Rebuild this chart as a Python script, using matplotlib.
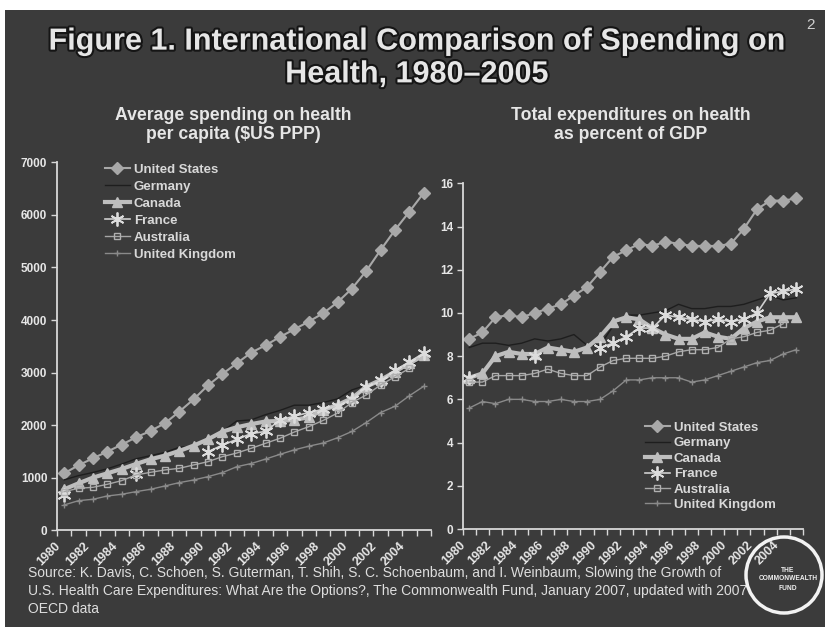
import numpy as np
import matplotlib.pyplot as plt
import matplotlib.patheffects as pe
import matplotlib.transforms as mtransforms
from matplotlib.patches import Rectangle, Circle

nan = np.nan
years = list(range(1980, 2006))
year_labels = [str(y) for y in range(1980, 2006, 2)]

# spending per capita, $US PPP
us_pc = [1084, 1237, 1370, 1497, 1630, 1769, 1890, 2036, 2257, 2492, 2758, 2974, 3177,
         3380, 3519, 3678, 3824, 3970, 4128, 4337, 4597, 4933, 5333, 5713, 6062, 6420]
de_pc = [960, 1040, 1100, 1170, 1260, 1360, 1420, 1480, 1580, 1600, 1740, 1880, 2080,
         2100, 2200, 2280, 2380, 2380, 2430, 2500, 2670, 2760, 2860, 2990, 3120, 3290]
ca_pc = [780, 894, 1002, 1084, 1167, 1262, 1351, 1420, 1509, 1611, 1731, 1877, 1960,
         2020, 2070, 2080, 2100, 2150, 2290, 2384, 2511, 2733, 2860, 3018, 3177, 3326]
fr_pc = [680, nan, nan, nan, nan, 1080, nan, nan, nan, nan, 1495, 1620, 1730,
         1840, 1880, 2100, 2170, 2240, 2300, 2370, 2500, 2720, 2850, 3040, 3200, 3374]
au_pc = [736, 799, 818, 875, 945, 1053, 1103, 1148, 1179, 1243, 1306, 1401, 1470,
         1560, 1655, 1750, 1870, 1971, 2090, 2230, 2430, 2574, 2765, 2922, 3080, nan]
uk_pc = [482, 564, 590, 653, 685, 736, 780, 843, 907, 957, 1021, 1097, 1210,
         1270, 1355, 1445, 1530, 1600, 1660, 1760, 1880, 2050, 2240, 2360, 2560, 2740]

# total expenditure on health, % of GDP
us_gdp = [8.8, 9.1, 9.8, 9.9, 9.8, 10.0, 10.2, 10.4, 10.8, 11.2, 11.9, 12.6, 12.9,
          13.2, 13.1, 13.3, 13.2, 13.1, 13.1, 13.1, 13.2, 13.9, 14.8, 15.2, 15.2, 15.3]
de_gdp = [8.4, 8.6, 8.6, 8.5, 8.6, 8.8, 8.7, 8.8, 9.0, 8.5, 8.5, 9.4, 9.9,
          9.9, 10.0, 10.1, 10.4, 10.2, 10.2, 10.3, 10.3, 10.4, 10.6, 10.8, 10.6, 10.7]
ca_gdp = [7.0, 7.2, 8.0, 8.2, 8.1, 8.1, 8.4, 8.3, 8.2, 8.4, 8.9, 9.6, 9.8,
          9.7, 9.3, 9.0, 8.8, 8.8, 9.1, 8.9, 8.8, 9.3, 9.6, 9.8, 9.8, 9.8]
fr_gdp = [7.0, nan, nan, nan, nan, 8.0, nan, nan, nan, nan, 8.4, 8.6, 8.9,
          9.3, 9.3, 9.9, 9.8, 9.7, 9.6, 9.7, 9.6, 9.7, 10.0, 10.9, 11.0, 11.1]
au_gdp = [6.8, 6.8, 7.1, 7.1, 7.1, 7.2, 7.4, 7.2, 7.1, 7.1, 7.5, 7.8, 7.9,
          7.9, 7.9, 8.0, 8.2, 8.3, 8.3, 8.4, 8.8, 8.9, 9.1, 9.2, 9.5, nan]
uk_gdp = [5.6, 5.9, 5.8, 6.0, 6.0, 5.9, 5.9, 6.0, 5.9, 5.9, 6.0, 6.4, 6.9,
          6.9, 7.0, 7.0, 7.0, 6.8, 6.9, 7.1, 7.3, 7.5, 7.7, 7.8, 8.1, 8.3]

countries = ['United States', 'Germany', 'Canada', 'France', 'Australia', 'United Kingdom']
styles = [
    dict(color='#a8a8a8', lw=1.5, marker='D', ms=6.3, mec='#a8a8a8'),
    dict(color='#1e1e1e', lw=1.0),
    dict(color='#bebebe', lw=3.0, marker='^', ms=6.5, mec='#bebebe'),
    dict(color='#cfcfcf', lw=1.2, marker=(6, 2, 0), ms=10, mew=1.3, mec='#dcdcdc'),
    dict(color='#a6a6a6', lw=1.0, marker='s', ms=4.5, mfc='none', mec='#b0b0b0', mew=1.0),
    dict(color='#8a8a8a', lw=1.0, marker='+', ms=5, mec='#8a8a8a'),
]

bg = '#3b3b3b'
fg = '#e6e6e6'
plt.rcParams['font.family'] = ['Liberation Sans', 'DejaVu Sans']

fig = plt.figure(figsize=(8.25, 6.27), dpi=100, facecolor='white')
fig.patches.append(Rectangle((5 / 825, 0), 1, 1 - 10 / 627, transform=fig.transFigure,
                             facecolor=bg, edgecolor='none', zorder=-10))

shadow = [pe.withStroke(linewidth=3, foreground='#151515')]
fig.text(0.505, 1 - 58 / 627, 'Figure 1. International Comparison of Spending on\nHealth, 1980\u20132005',
         ha='center', va='center', fontsize=22, fontweight='bold', color=fg,
         linespacing=1.12, path_effects=shadow)
fig.text(0.988, 0.96, '2', ha='right', va='center', fontsize=11, color='#d0d0d0')

fig.text(0.283, 1 - 125 / 627, 'Average spending on health\nper capita ($US PPP)', ha='center',
         va='center', fontsize=12.7, fontweight='bold', color=fg, linespacing=1.15)
fig.text(0.765, 1 - 125 / 627, 'Total expenditures on health\nas percent of GDP', ha='center',
         va='center', fontsize=12.7, fontweight='bold', color=fg, linespacing=1.15)

ax1 = fig.add_axes([57 / 825, 1 - 530.3 / 627, 374 / 825, 368 / 627])
ax2 = fig.add_axes([462.8 / 825, 1 - 529 / 627, 340 / 825, 345.7 / 627])

left_data = [us_pc, de_pc, ca_pc, fr_pc, au_pc, uk_pc]
right_data = [us_gdp, de_gdp, ca_gdp, fr_gdp, au_gdp, uk_gdp]

# year labels end just left of their category
label_shift = mtransforms.ScaledTranslation(-10 / 100, 0, fig.dpi_scale_trans)

for ax, data in ((ax1, left_data), (ax2, right_data)):
    ax.set_facecolor('none')
    for name, vals, st in zip(countries, data, styles):
        ax.plot(years, vals, label=name, **st)
    ax.set_xlim(1979.5, 2005.5)
    for s in ('top', 'right'):
        ax.spines[s].set_visible(False)
    for s in ('left', 'bottom'):
        ax.spines[s].set_color('#d8d8d8')
        ax.spines[s].set_linewidth(1.3)
    # tick marks sit between categories, labels on every other year
    ax.set_xticks(np.arange(1979.5, 2006, 1), minor=True)
    ax.set_xticks(range(1980, 2006, 2))
    ax.set_xticklabels(year_labels, rotation=45, ha='right', va='top',
                       rotation_mode='anchor', fontsize=9, fontweight='bold', color=fg)
    ax.tick_params(axis='x', which='major', length=0, pad=7)
    ax.tick_params(axis='x', which='minor', length=4, direction='out', color='#d8d8d8', width=1)
    ax.tick_params(axis='y', length=4, direction='out', color='#d8d8d8', width=1,
                   labelsize=8.5, labelcolor=fg, pad=3)
    for t in ax.get_xticklabels():
        t.set_transform(t.get_transform() + label_shift)

ax1.set_ylim(0, 7000)
ax1.set_yticks(range(0, 7001, 1000))
ax2.set_ylim(0, 16)
ax2.set_yticks(range(0, 17, 2))
for ax in (ax1, ax2):
    for t in ax.get_yticklabels():
        t.set_fontweight('bold')

leg_kw = dict(frameon=False, fontsize=9.5, handlelength=1.9, handletextpad=0.3,
              borderpad=0, borderaxespad=0)
leg1 = ax1.legend(loc='upper left', bbox_to_anchor=(0.128, 0.997), labelspacing=0.36, **leg_kw)
leg2 = ax2.legend(loc='upper left', bbox_to_anchor=(0.535, 0.31), labelspacing=0.24, **leg_kw)
for leg in (leg1, leg2):
    for t in leg.get_texts():
        t.set_color('#d8d8d8')
        t.set_fontweight('bold')

fig.text(28 / 825, 1 - 566 / 627,
         'Source: K. Davis, C. Schoen, S. Guterman, T. Shih, S. C. Schoenbaum, and I. Weinbaum, '
         'Slowing the Growth of\nU.S. Health Care Expenditures: What Are the Options?, The '
         'Commonwealth Fund, January 2007, updated with 2007\nOECD data',
         ha='left', va='top', fontsize=10, color='#dedede', linespacing=1.35)

# Commonwealth Fund seal, sized in inches so it stays round
fig.patches.append(Circle((7.84, 6.27 - 5.75), 0.38, transform=fig.dpi_scale_trans,
                          facecolor='none', edgecolor='#f2f2f2', lw=2.5, zorder=5))
fig.text(788 / 825, 1 - 579 / 627, 'THE\nCOMMONWEALTH\nFUND', ha='center', va='center',
         fontsize=4.8, fontweight='bold', color='#f0f0f0', linespacing=1.4)

fig.savefig('out.png', dpi=100, facecolor=fig.get_facecolor())
